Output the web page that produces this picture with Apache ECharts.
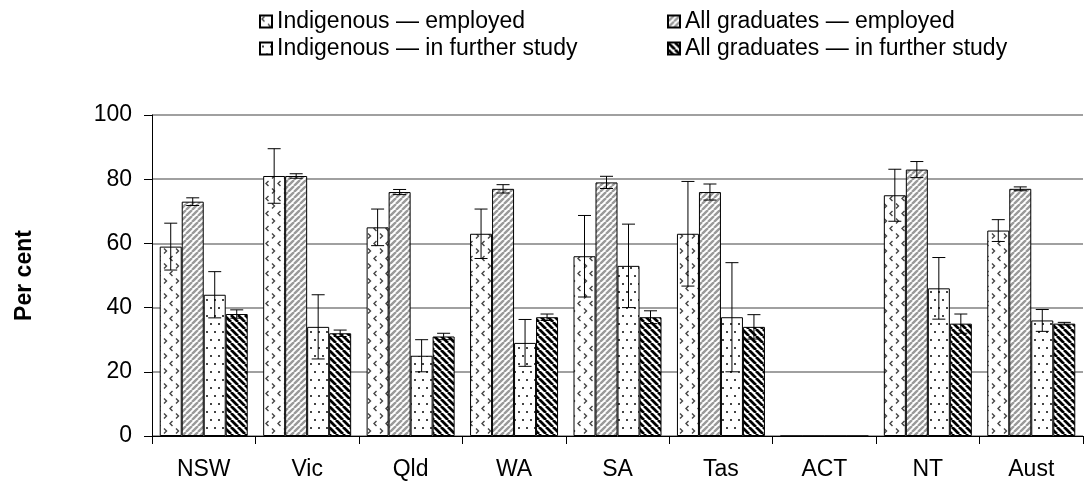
<!DOCTYPE html>
<html>
<head>
<meta charset="utf-8">
<script src="https://cdn.jsdelivr.net/npm/echarts@6/dist/echarts.min.js"></script>
<style>
  html, body { margin: 0; padding: 0; background: #fff; }
  #chart { width: 1085px; height: 488px; }
</style>
</head>
<body>
<div id="chart"></div>
<script>
// data
var states = ['NSW', 'Vic', 'Qld', 'WA', 'SA', 'Tas', 'ACT', 'NT', 'Aust'];
var seriesNames = [
    'Indigenous \u2014 employed',
    'All graduates \u2014 employed',
    'Indigenous \u2014 in further study',
    'All graduates \u2014 in further study'
];
var indigEmployed = [59, 81, 65, 63, 56, 63, 0, 75, 64];
var allEmployed   = [73, 81, 76, 77, 79, 76, 0, 83, 77];
var indigStudy    = [44, 34, 25, 29, 53, 37, 0, 46, 36];
var allStudy      = [38, 32, 31, 37, 37, 34, 0, 35, 35];
// half-widths of the error bars
var indigEmployedErr = [7.3, 8.5, 5.7, 7.7, 12.7, 16.3, 0, 8.1, 3.4];
var allEmployedErr   = [1.2, 0.7, 0.8, 1.3, 1.9, 2.5, 0, 2.5, 0.6];
var indigStudyErr    = [7.2, 10, 5, 7.3, 13, 17, 0, 9.6, 3.4];
var allStudyErr      = [1.3, 1, 1, 1, 2, 3.8, 0, 3, 0.4];
var yTicks = [0, 20, 40, 60, 80, 100];

var values = [indigEmployed, allEmployed, indigStudy, allStudy];
var errors = [indigEmployedErr, allEmployedErr, indigStudyErr, allStudyErr];

var BAR_W = 22;

// pattern tiles
function tile(w, h, draw) {
    var c = document.createElement('canvas');
    c.width = w; c.height = h;
    var g = c.getContext('2d');
    g.fillStyle = '#fff';
    g.fillRect(0, 0, w, h);
    draw(g, w, h);
    return { image: c, repeat: 'repeat' };
}
function stripes(size, color, width, up) {
    return tile(size, size, function (g, s) {
        g.strokeStyle = color;
        g.lineWidth = width;
        g.beginPath();
        for (var k = -1; k <= 1; k++) {
            if (up) { g.moveTo(k * s, s); g.lineTo(k * s + s, 0); }
            else { g.moveTo(k * s, 0); g.lineTo(k * s + s, s); }
        }
        g.stroke();
    });
}
var divot = tile(12, 15, function (g) {
    g.strokeStyle = '#444';
    g.lineWidth = 1.4;
    g.beginPath();
    g.moveTo(4.5, 1); g.lineTo(2, 3.5); g.lineTo(4.5, 6);
    g.moveTo(8, 8.5); g.lineTo(10.5, 11); g.lineTo(8, 13.5);
    g.stroke();
});
var dots = tile(16, 16, function (g) {
    g.fillStyle = '#444';
    g.fillRect(2, 3, 2, 2);
    g.fillRect(10, 3, 2, 2);
    g.fillRect(6, 11, 2, 2);
    g.fillRect(14, 11, 2, 2);
});
var fills = [divot, stripes(6, '#9a9a9a', 2.4, true), dots, stripes(7, '#000', 2.8, false)];

var chart = echarts.init(document.getElementById('chart'));

var series = values.map(function (v, i) {
    return {
        name: seriesNames[i],
        type: 'bar',
        data: v,
        barWidth: BAR_W,
        barGap: '0%',
        itemStyle: { color: fills[i], borderColor: '#000', borderWidth: 1 }
    };
});

// error bars drawn as one custom series
var errData = [];
values.forEach(function (v, i) {
    v.forEach(function (val, j) {
        if (errors[i][j] > 0) errData.push([j, val - errors[i][j], val + errors[i][j], i]);
    });
});
series.push({
    type: 'custom',
    name: 'err',
    data: errData,
    encode: { x: 0, y: [1, 2] },
    z: 10,
    renderItem: function (params, api) {
        var offset = (api.value(3) - 1.5) * BAR_W;
        var lo = api.coord([api.value(0), api.value(1)]);
        var hi = api.coord([api.value(0), api.value(2)]);
        var x = lo[0] + offset;
        var cap = 6.5;
        var style = { stroke: '#000', lineWidth: 1 };
        return {
            type: 'group',
            children: [
                { type: 'line', shape: { x1: x, y1: lo[1], x2: x, y2: hi[1] }, style: style },
                { type: 'line', shape: { x1: x - cap, y1: lo[1], x2: x + cap, y2: lo[1] }, style: style },
                { type: 'line', shape: { x1: x - cap, y1: hi[1], x2: x + cap, y2: hi[1] }, style: style }
            ]
        };
    }
});

var legendText = { fontSize: 23, color: '#000', fontFamily: 'Liberation Sans' };

var option = {
    animation: false,
    textStyle: { fontFamily: 'Liberation Sans' },
    legend: [
        {
            data: [seriesNames[0], seriesNames[2]],
            orient: 'vertical', left: 254, top: 5,
            itemWidth: 12, itemHeight: 12, itemGap: 4,
            icon: 'rect', textStyle: legendText
        },
        {
            data: [seriesNames[1], seriesNames[3]],
            orient: 'vertical', left: 662, top: 5,
            itemWidth: 12, itemHeight: 12, itemGap: 4,
            icon: 'rect', textStyle: legendText
        }
    ],
    grid: { left: 152, right: 2, top: 115, bottom: 52 },
    xAxis: {
        type: 'category',
        data: states,
        axisLine: { lineStyle: { color: '#000', width: 1 } },
        axisTick: { show: true, length: 8, lineStyle: { color: '#000' } },
        axisLabel: { color: '#000', fontSize: 23, margin: 22 }
    },
    yAxis: {
        type: 'value',
        min: yTicks[0],
        max: yTicks[yTicks.length - 1],
        interval: 20,
        name: 'Per cent',
        nameLocation: 'middle',
        nameGap: 116,
        nameTextStyle: { color: '#000', fontSize: 23, fontWeight: 'bold' },
        axisLine: { show: true, lineStyle: { color: '#000', width: 1 } },
        axisTick: { show: true, length: 8, lineStyle: { color: '#000' } },
        axisLabel: { color: '#000', fontSize: 23, margin: 20 },
        splitLine: { lineStyle: { color: '#808080', width: 1.5 } }
    },
    series: series
};

chart.setOption(option);
</script>
</body>
</html>
